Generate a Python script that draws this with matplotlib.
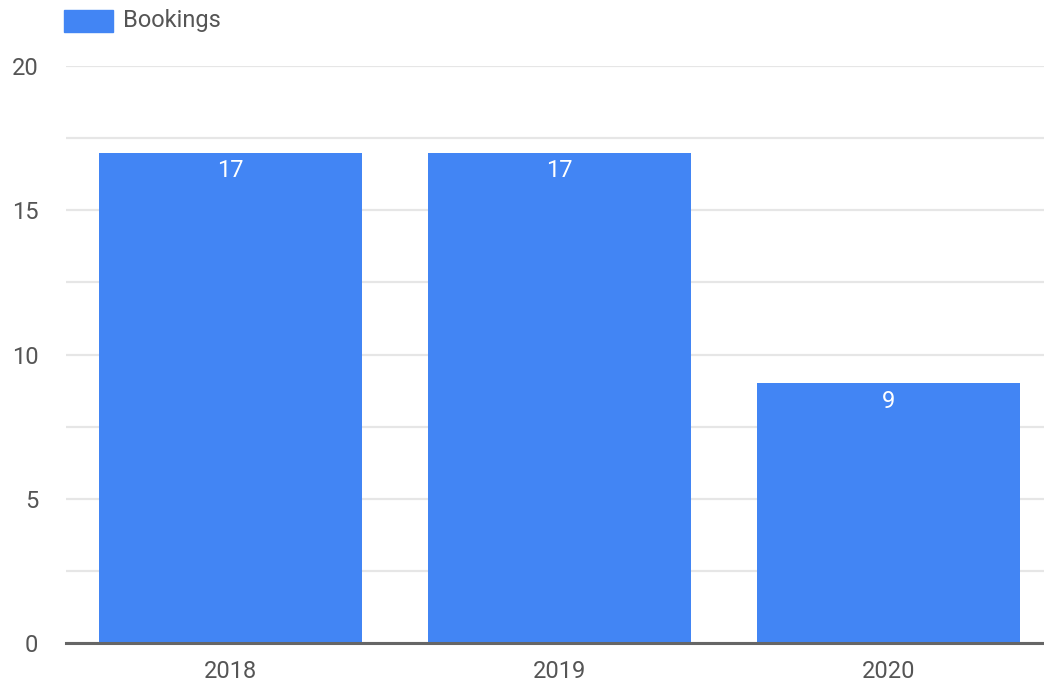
import matplotlib.pyplot as plt
from matplotlib.patches import Rectangle

years = ['2018', '2019', '2020']
bookings = [17, 17, 9]
y_ticks = [0, 5, 10, 15, 20]
series_name = 'Bookings'

BLUE = '#4285f4'
TEXT = '#555555'
FS = 17

plt.rcParams['font.family'] = ['Roboto', 'DejaVu Sans']

W, H = 1044, 686
fig = plt.figure(figsize=(W / 100, H / 100), dpi=100)

# plot area in pixels
x0, x1 = 66, 1053
y_top, y_bot = 66, 643
ax = fig.add_axes([x0 / W, (H - y_bot) / H, (x1 - x0) / W, (y_bot - y_top) / H])

xs = range(len(years))
ax.bar(xs, bookings, width=0.8, color=BLUE, zorder=2)
for x, v in zip(xs, bookings):
    ax.annotate(str(v), (x, v), xytext=(0, -5), textcoords='offset points',
                ha='center', va='top', color='white', fontsize=FS)

ax.set_xlim(-0.5, len(years) - 0.5)
ax.set_ylim(0, 20)
ax.set_xticks(list(xs))
ax.set_xticklabels(years)
ax.set_yticks(y_ticks)
ax.set_yticks([2.5, 7.5, 12.5, 17.5], minor=True)
ax.tick_params(axis='both', length=0, labelsize=FS, labelcolor=TEXT)
ax.tick_params(axis='x', pad=12)
ax.tick_params(axis='y', pad=20)
ax.tick_params(which='minor', length=0)
ax.grid(axis='y', which='both', color='#e6e6e6', linewidth=1.6, zorder=0)
ax.set_axisbelow(True)
for s in ['top', 'right', 'left']:
    ax.spines[s].set_visible(False)
ax.spines['bottom'].set_color('#666666')
ax.spines['bottom'].set_linewidth(2.2)
ax.spines['bottom'].set_zorder(3)

# legend
fig.add_artist(Rectangle((64 / W, (H - 32) / H), 49 / W, 22 / H,
                         transform=fig.transFigure, color=BLUE))
fig.text(123 / W, (H - 21) / H, series_name, ha='left', va='center',
         color=TEXT, fontsize=FS)

fig.savefig('out.png', dpi=100)
